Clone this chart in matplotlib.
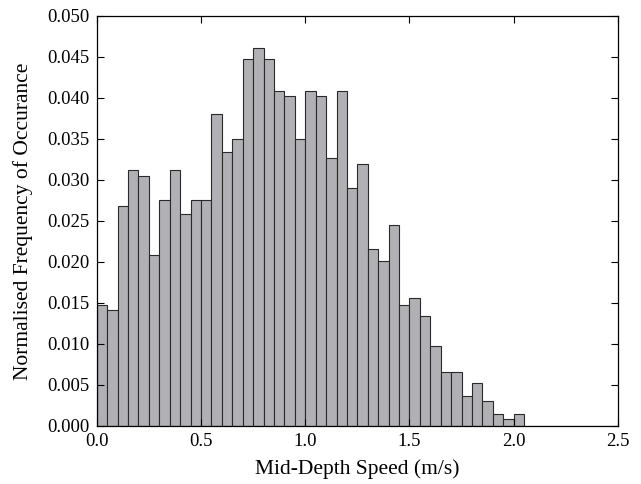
import matplotlib
matplotlib.use("Agg")
import matplotlib.pyplot as plt
import numpy as np

# histogram bins (m/s) and normalised frequencies
bin_edges = np.arange(0.0, 2.5001, 0.05)
frequencies = [0.0148, 0.0141, 0.0268, 0.0312, 0.0305, 0.0208, 0.0276, 0.0312, 0.0259, 0.0276,
               0.0276, 0.0380, 0.0334, 0.0350, 0.0447, 0.0461, 0.0447, 0.0409, 0.0402, 0.0350,
               0.0409, 0.0402, 0.0327, 0.0409, 0.0290, 0.0320, 0.0216, 0.0201, 0.0245, 0.0148,
               0.0156, 0.0134, 0.0097, 0.0066, 0.0066, 0.0037, 0.0052, 0.0030, 0.0015, 0.0008,
               0.0015, 0.0, 0.0, 0.0, 0.0, 0.0, 0.0, 0.0, 0.0, 0.0]
x_ticks = [0.0, 0.5, 1.0, 1.5, 2.0, 2.5]
y_ticks = [0.000, 0.005, 0.010, 0.015, 0.020, 0.025, 0.030, 0.035, 0.040, 0.045, 0.050]

plt.rcParams['font.family'] = ['Liberation Serif', 'DejaVu Serif']

fig = plt.figure(figsize=(6.41, 4.84), dpi=100)
ax = fig.add_axes([0.151, 0.12, 0.813, 0.847])

ax.bar(bin_edges[:-1], frequencies, width=np.diff(bin_edges), align='edge',
       color='#b1b1b5', edgecolor='#2a2a2a', linewidth=0.8)

ax.set_xlim(0, 2.5)
ax.set_ylim(0, 0.05)
ax.set_xticks(x_ticks)
ax.set_xticklabels(['{:.1f}'.format(t) for t in x_ticks])
ax.set_yticks(y_ticks)
ax.set_yticklabels(['{:.3f}'.format(t) for t in y_ticks])
ax.tick_params(direction='in', length=5, width=0.8, top=True, right=True, labelsize=13.5)
ax.tick_params(axis='y', pad=5.5)
ax.tick_params(axis='x', pad=5)
for spine in ax.spines.values():
    spine.set_linewidth(0.9)

ax.set_xlabel('Mid-Depth Speed (m/s)', fontsize=15.5, labelpad=7)
ax.set_ylabel('Normalised Frequency of Occurance', fontsize=15.5, labelpad=10)

fig.savefig('out.png', dpi=100)
